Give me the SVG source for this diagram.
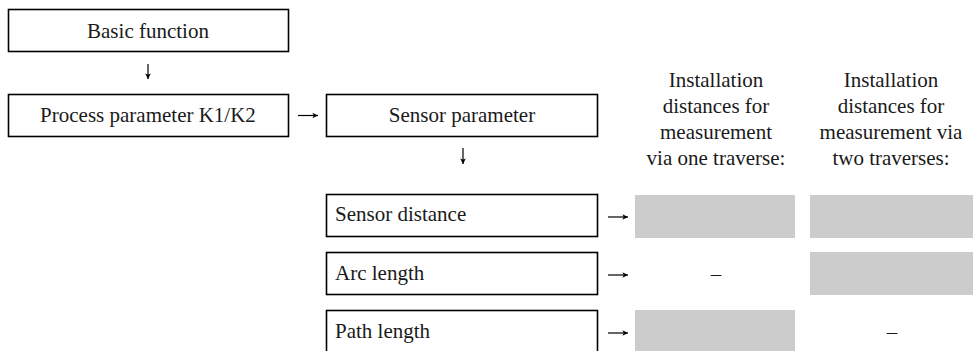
<svg xmlns="http://www.w3.org/2000/svg" width="978" height="351" viewBox="0 0 978 351">
<style>
.box{fill:#fff;stroke:#000;stroke-width:1.6}
.gray{fill:#cccccc;stroke:none}
text{font-family:"Liberation Serif",serif;font-size:21px;fill:#1a1a1a}
.c{text-anchor:middle}
.ln{stroke:#000;stroke-width:1.2;fill:none}
</style>
<defs>
<marker id="ah" viewBox="0 0 10 10" refX="9" refY="5" markerWidth="7" markerHeight="7" markerUnits="userSpaceOnUse" orient="auto">
<path d="M1,1 L9,5 L1,9 L3,5 Z" fill="#000"/>
</marker>
</defs>
<rect width="978" height="351" fill="#fff"/>
<g id="basic-function"><rect class="box" x="8.5" y="9.5" width="280" height="42"/><text class="c" x="148" y="38">Basic function</text></g>
<g id="process-parameter"><rect class="box" x="8.5" y="94.5" width="280" height="42"/><text class="c" x="148" y="122">Process parameter K1/K2</text></g>
<g id="sensor-parameter"><rect class="box" x="326.5" y="94.5" width="271" height="42"/><text class="c" x="462" y="122">Sensor parameter</text></g>
<g id="sensor-distance"><rect class="box" x="326.5" y="194.5" width="271" height="42"/><text x="335" y="221">Sensor distance</text></g>
<g id="arc-length"><rect class="box" x="326.5" y="252.5" width="271" height="42"/><text x="335" y="280">Arc length</text></g>
<g id="path-length"><rect class="box" x="326.5" y="310.5" width="271" height="44"/><text x="335" y="338">Path length</text></g>
<g id="header-one"><text class="c" x="716" y="87">Installation</text><text class="c" x="716" y="113">distances for</text><text class="c" x="716" y="139">measurement</text><text class="c" x="716" y="165">via one traverse:</text></g>
<g id="header-two"><text class="c" x="891" y="87">Installation</text><text class="c" x="891" y="113">distances for</text><text class="c" x="891" y="139">measurement via</text><text class="c" x="891" y="165">two traverses:</text></g>
<g id="cells">
<rect class="gray" x="635" y="195" width="160" height="43"/>
<rect class="gray" x="810" y="195" width="163" height="43"/>
<text class="c" x="716" y="281">–</text>
<rect class="gray" x="810" y="252" width="163" height="43"/>
<rect class="gray" x="635" y="310" width="160" height="41"/>
<text class="c" x="892" y="339">–</text>
</g>
<g id="connectors">
<path class="ln" d="M148,64 V79" marker-end="url(#ah)"/>
<path class="ln" d="M298,115.5 H318" marker-end="url(#ah)"/>
<path class="ln" d="M463,148 V164" marker-end="url(#ah)"/>
<path class="ln" d="M608,217 H628" marker-end="url(#ah)"/>
<path class="ln" d="M608,275 H628" marker-end="url(#ah)"/>
<path class="ln" d="M608,333 H628" marker-end="url(#ah)"/>
</g>
</svg>
